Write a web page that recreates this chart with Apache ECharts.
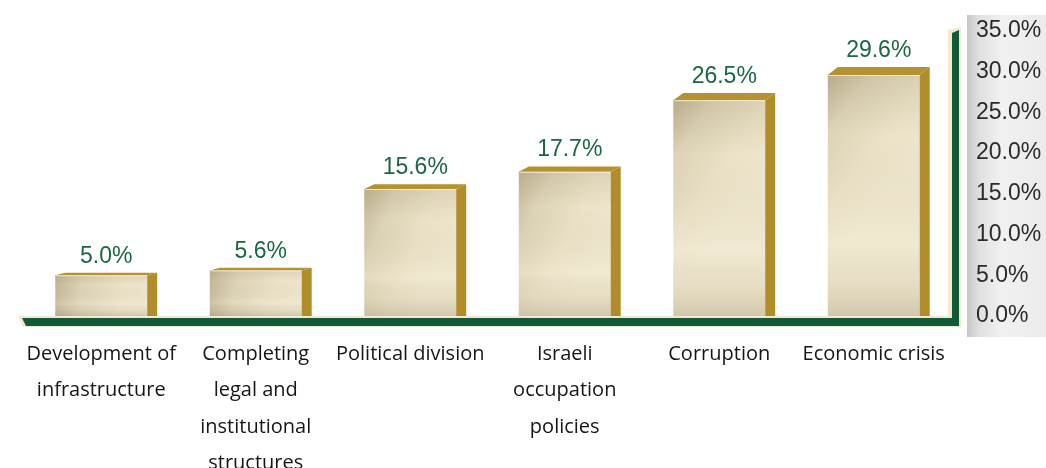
<!DOCTYPE html>
<html>
<head>
<meta charset="utf-8">
<script src="https://cdn.jsdelivr.net/npm/echarts@6/dist/echarts.min.js"></script>
<style>
  html, body { margin: 0; padding: 0; background: #ffffff; }
  #chart { width: 1046px; height: 468px; }
</style>
</head>
<body>
<div id="chart"></div>
<script>
// Share of respondents naming each issue as the most pressing problem
const categories = [
  'Development of\ninfrastructure',
  'Completing\nlegal and\ninstitutional\nstructures',
  'Political division',
  'Israeli\noccupation\npolicies',
  'Corruption',
  'Economic crisis'
];
const shares = [5.0, 5.6, 15.6, 17.7, 26.5, 29.6];
const axisMin = 0;
const axisMax = 35;
const axisStep = 5;

const GOLD = '#b08c2b';
const GOLD_TOP = '#b5922f';
const GREEN = '#125b37';
const LABEL_GREEN = '#1b6742';
const CREAM = '#f1e9d2';

const chart = echarts.init(document.getElementById('chart'), null, { renderer: 'canvas' });

// Draws one bar as a box: shaded front face, gold right side and gold lid.
function renderBox(params, api) {
  const cat = api.value(0);
  const val = api.value(1);
  const top = api.coord([cat, val]);
  const base = api.coord([cat, 0]);
  const band = api.size([1, 0])[0];
  const fw = band * 0.595;
  const x0 = top[0] - fw / 2;
  const x1 = x0 + fw;
  const yT = top[1];
  const yB = base[1];
  const h = yB - yT;
  const dx = 10;
  const dy = 1.4 + 0.027 * h;

  return {
    type: 'group',
    children: [
      {
        type: 'rect',
        shape: { x: x0, y: yT, width: fw, height: h },
        style: {
          fill: new echarts.graphic.LinearGradient(0, 0, 1, 0.3, [
            { offset: 0, color: '#c2b696' },
            { offset: 0.3, color: '#ddd3b6' },
            { offset: 0.7, color: '#ebe2c7' },
            { offset: 1, color: '#eee6cd' }
          ])
        }
      },
      {
        type: 'rect',
        shape: { x: x0, y: yT, width: fw, height: h },
        style: {
          fill: new echarts.graphic.LinearGradient(0, 0, 0, 1, [
            { offset: 0, color: 'rgba(130,112,70,0.14)' },
            { offset: 0.25, color: 'rgba(130,112,70,0)' },
            { offset: 0.7, color: 'rgba(255,252,238,0.15)' },
            { offset: 0.85, color: 'rgba(150,135,100,0.08)' },
            { offset: 1, color: 'rgba(120,105,70,0.24)' }
          ])
        }
      },
      {
        type: 'polygon',
        shape: { points: [[x1, yT], [x1 + dx, yT - dy], [x1 + dx, yB], [x1, yB]] },
        style: { fill: GOLD }
      },
      {
        type: 'polygon',
        shape: { points: [[x0, yT], [x0 + dx, yT - dy], [x1 + dx, yT - dy], [x1, yT]] },
        style: { fill: GOLD_TOP }
      },
      {
        type: 'line',
        shape: { x1: x0 + 1, y1: yT + 0.5, x2: x1, y2: yT + 0.5 },
        style: { stroke: 'rgba(250,245,225,0.8)', lineWidth: 1 }
      },
      {
        type: 'text',
        x: top[0] + dx / 2,
        y: yT - dy - 5,
        style: {
          text: val.toFixed(1) + '%',
          fill: LABEL_GREEN,
          font: '23px "Liberation Sans", Arial, sans-serif',
          textAlign: 'center',
          textVerticalAlign: 'bottom',
          align: 'center',
          verticalAlign: 'bottom'
        }
      }
    ]
  };
}

chart.setOption({
  animation: false,
  backgroundColor: '#ffffff',
  grid: { left: 24, right: 95, top: 31, bottom: 152, containLabel: false, outerBoundsMode: 'none' },
  xAxis: {
    type: 'category',
    data: categories,
    axisLine: { show: false },
    axisTick: { show: false },
    axisLabel: {
      interval: 0,
      margin: 20,
      color: '#161616',
      fontFamily: '"Open Sans", sans-serif',
      fontSize: 20,
      lineHeight: 36.5
    }
  },
  yAxis: {
    type: 'value',
    position: 'right',
    min: axisMin,
    max: axisMax,
    interval: axisStep,
    axisLine: { show: false },
    axisTick: { show: false },
    splitLine: { show: false },
    axisLabel: {
      margin: 25,
      color: '#2a2a2a',
      fontFamily: '"Liberation Sans", Arial, sans-serif',
      fontSize: 23,
      formatter: v => v.toFixed(1) + '%'
    }
  },
  series: [{
    type: 'custom',
    renderItem: renderBox,
    data: shares.map((v, i) => [i, v]),
    z: 3
  }]
});

// Floor strip, right-hand wall and the shaded panel behind the value axis,
// positioned from the grid's own pixel coordinates.
const y0 = chart.convertToPixel({ yAxisIndex: 0 }, axisMin);
const yMaxPx = chart.convertToPixel({ yAxisIndex: 0 }, axisMax);
const gridRight = 1046 - 95;

chart.setOption({
  graphic: [
    {
      type: 'rect',
      z: -10,
      shape: { x: 967, y: 15, width: 79, height: 322 },
      style: {
        fill: new echarts.graphic.LinearGradient(0, 0, 1, 0, [
          { offset: 0, color: '#c6c6c6' },
          { offset: 0.15, color: '#e0e0e0' },
          { offset: 0.45, color: '#f1f1f1' },
          { offset: 1, color: '#ebebeb' }
        ])
      }
    },
    {
      type: 'polygon',
      z: 1,
      shape: { points: [[18, y0], [gridRight + 10, y0], [gridRight + 10, y0 + 11], [23, y0 + 11]] },
      style: { fill: CREAM }
    },
    {
      type: 'polygon',
      z: 1,
      shape: { points: [[gridRight - 3, yMaxPx - 1], [gridRight + 10, yMaxPx - 4], [gridRight + 10, y0 + 11], [gridRight - 3, y0 + 11]] },
      style: { fill: CREAM }
    },
    {
      type: 'polygon',
      z: 2,
      shape: { points: [[22, y0 + 2], [gridRight + 8, y0 + 2], [gridRight + 8, y0 + 10], [26, y0 + 10]] },
      style: { fill: GREEN }
    },
    {
      type: 'polygon',
      z: 2,
      shape: { points: [[gridRight + 1, yMaxPx + 2], [gridRight + 8, yMaxPx - 1], [gridRight + 8, y0 + 10], [gridRight + 1, y0 + 10]] },
      style: { fill: GREEN }
    }
  ]
});
</script>
</body>
</html>
